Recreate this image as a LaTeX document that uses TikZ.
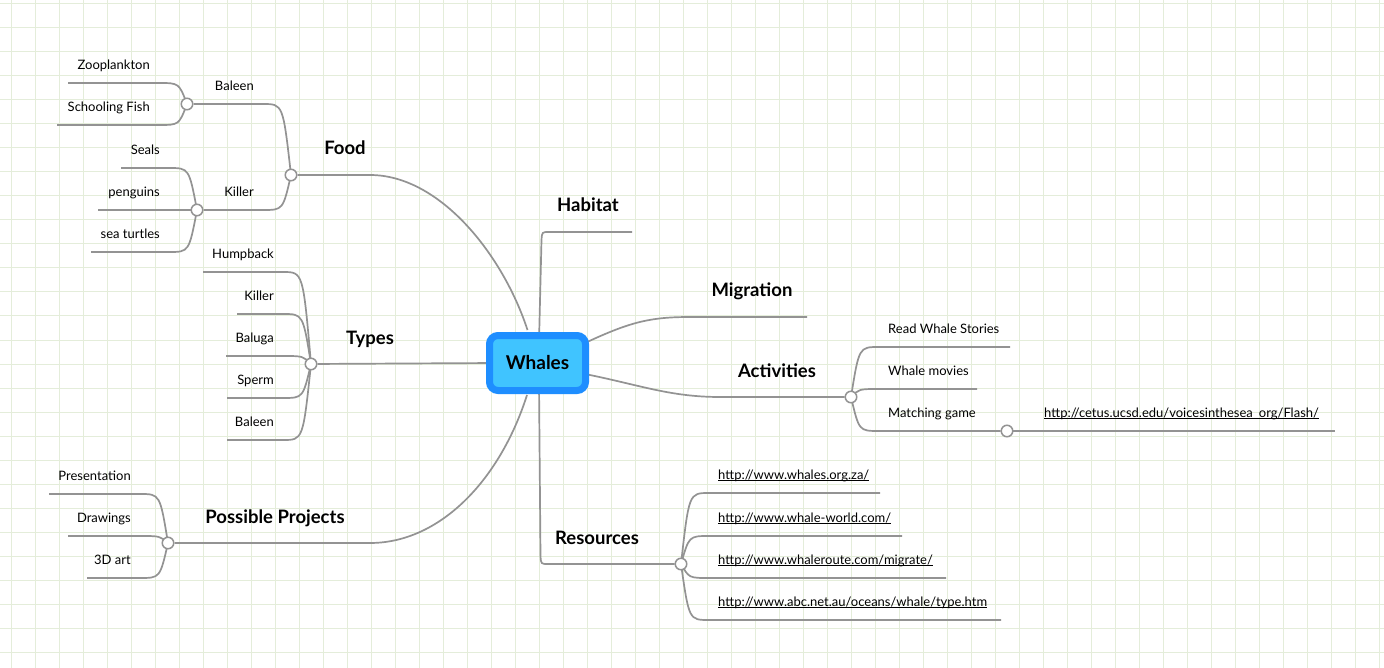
\documentclass[tikz,border=0pt]{standalone}
\usepackage{fontspec}
\setmainfont{Lato}
\pgfdeclarelayer{grid}
\pgfdeclarelayer{bg}
\pgfsetlayers{grid,bg,main}
\definecolor{linec}{HTML}{939393}
\definecolor{gridc}{HTML}{E4EDDA}
\definecolor{boxb}{HTML}{1E8EFF}
\definecolor{boxf}{HTML}{40C4FF}
\newcommand{\lnk}[1]{\leavevmode\setbox0\hbox{#1}\rlap{\rule[-1.6pt]{\wd0}{0.8pt}}\box0}
\newcommand{\lbr}[2]{\draw[conn] (#1.center) .. controls ([xshift=-8pt]#1.center |- #2) .. ([xshift=-28pt]#1.center |- #2) -- (#2);}
\newcommand{\rbr}[2]{\draw[conn] (#1.center) .. controls ([xshift=8pt]#1.center |- #2) .. ([xshift=28pt]#1.center |- #2) -- (#2);}
\tikzset{
  conn/.style={draw=linec, line width=1.7pt},
  jn/.style={circle, draw=linec, fill=white, line width=1.5pt, minimum size=11.5pt, inner sep=0pt},
  lab/.style={font=\fontsize{13}{15}\selectfont, inner sep=0pt},
  llab/.style={lab, anchor=base east},
  rlab/.style={lab, anchor=base west},
  mainlab/.style={font=\fontsize{18.5}{22}\selectfont\bfseries, inner sep=0pt, anchor=base},
  centralbox/.style={draw=boxb, fill=boxf, line width=7pt, rounded corners=8.5pt,
    minimum width=96pt, minimum height=55pt, inner sep=0pt,
    font=\fontsize{19}{22}\selectfont\bfseries}
}
\begin{document}
\begin{tikzpicture}[x=1pt,y=-1pt]
\useasboundingbox (0,0) rectangle (1384,668);
\begin{pgfonlayer}{grid}
  \fill[white] (0,0) rectangle (1384,668);
  \foreach \i in {0,...,57} \draw[gridc, line width=1pt] ({11+24*\i},0) -- ({11+24*\i},668);
  \foreach \j in {0,...,27} \draw[gridc, line width=1pt] (0,{4+24*\j}) -- (1384,{4+24*\j});
\end{pgfonlayer}

% central topic
\node[centralbox] (whales) at (537.5,363) {Whales};

% junctions
\node[jn] (jFood) at (291,175) {};
\node[jn] (jBaleen) at (187,104) {};
\node[jn] (jKiller) at (197,210) {};
\node[jn] (jTypes) at (311,364) {};
\node[jn] (jProj) at (168,543) {};
\node[jn] (jAct) at (851,397) {};
\node[jn] (jMatch) at (1007,431) {};
\node[jn] (jRes) at (681,564) {};

% free ends
\coordinate (eZoo) at (68,83);
\coordinate (eSchool) at (57,125);
\coordinate (eSeals) at (121,168);
\coordinate (ePeng) at (98,210);
\coordinate (eTurt) at (91,252);
\coordinate (eHump) at (203,272);
\coordinate (eKillT) at (237,314);
\coordinate (eBal) at (226,356);
\coordinate (eSperm) at (227,398);
\coordinate (eBaleT) at (227,440);
\coordinate (ePres) at (49,494);
\coordinate (eDraw) at (68,536);
\coordinate (e3D) at (87,578);
\coordinate (eRead) at (1010,347);
\coordinate (eMovie) at (977,389);
\coordinate (eCetus) at (1335,431);
\coordinate (eR1) at (880,493);
\coordinate (eR2) at (902,536);
\coordinate (eR3) at (946,578);
\coordinate (eR4) at (1001,620);
\coordinate (eHab) at (632,232);
\coordinate (eMig) at (807,317);

% starting points on the central topic
\coordinate (wFood) at ([xshift=-10pt,yshift=2pt]whales.north);
\coordinate (wHab) at ([xshift=1.5pt,yshift=-10pt]whales.north);
\coordinate (wMig) at ([xshift=-4pt,yshift=20pt]whales.east);
\coordinate (wAct) at ([xshift=-4pt,yshift=-11pt]whales.east);
\coordinate (wTypes) at ([xshift=10pt]whales.west);
\coordinate (wProj) at ([xshift=-10.5pt,yshift=-1pt]whales.south);
\coordinate (wRes) at ([xshift=1.5pt,yshift=10pt]whales.south);

\begin{pgfonlayer}{bg}
  % main branches
  \draw[conn] (wFood) .. controls (503,255) and (440,175) .. (370,175) -- (jFood);
  \draw[conn] (wHab) -- (541.5,240) .. controls (542,232) .. (549,232) -- (eHab);
  \draw[conn] (wMig) .. controls (630,322) and (650,317) .. (690,317) -- (eMig);
  \draw[conn] (wAct) .. controls (640,385) and (670,397) .. (720,397) -- (jAct);
  \draw[conn] (wTypes) -- (jTypes);
  \draw[conn] (wProj) .. controls (500,480) and (440,543) .. (370,543) -- (jProj);
  \draw[conn] (wRes) -- (540.5,556) .. controls (541,564) .. (548,564) -- (jRes);
  % Food
  \lbr{jFood}{jBaleen}
  \lbr{jFood}{jKiller}
  \lbr{jBaleen}{eZoo}
  \lbr{jBaleen}{eSchool}
  \lbr{jKiller}{eSeals}
  \draw[conn] (jKiller.center) -- (ePeng);
  \lbr{jKiller}{eTurt}
  % Types
  \lbr{jTypes}{eHump}
  \lbr{jTypes}{eKillT}
  \lbr{jTypes}{eBal}
  \lbr{jTypes}{eSperm}
  \lbr{jTypes}{eBaleT}
  % Projects
  \lbr{jProj}{ePres}
  \lbr{jProj}{eDraw}
  \lbr{jProj}{e3D}
  % Activities
  \rbr{jAct}{eRead}
  \rbr{jAct}{eMovie}
  \rbr{jAct}{jMatch}
  \draw[conn] (jMatch.center) -- (eCetus);
  % Resources
  \rbr{jRes}{eR1}
  \rbr{jRes}{eR2}
  \rbr{jRes}{eR3}
  \rbr{jRes}{eR4}
\end{pgfonlayer}

% main labels
\node[mainlab] (tFood) at (345,155) {Food};
\node[mainlab] (tHab) at (588,212) {Habitat};
\node[mainlab] (tMig) at (752,297) {Migration};
\node[mainlab] (tAct) at (777,377) {Activities};
\node[mainlab] (tTypes) at (370,344) {Types};
\node[mainlab] (tProj) at (275,523) {Possible Projects};
\node[mainlab] (tRes) at (597,544) {Resources};

% left labels
\node[llab] (tBaleenF) at (254,90.5) {Baleen};
\node[llab] (tKillerF) at (254,196.5) {Killer};
\node[llab] (tZoo) at (150,69.5) {Zooplankton};
\node[llab] (tSchool) at (150,111.5) {Schooling Fish};
\node[llab] (tSeals) at (160,154.5) {Seals};
\node[llab] (tPeng) at (160,196.5) {penguins};
\node[llab] (tTurt) at (160,238.5) {sea turtles};
\node[llab] (tHump) at (274,258.5) {Humpback};
\node[llab] (tKillT) at (274,300.5) {Killer};
\node[llab] (tBal) at (274,342.5) {Baluga};
\node[llab] (tSperm) at (274,384.5) {Sperm};
\node[llab] (tBaleT) at (274,426.5) {Baleen};
\node[llab] (tPres) at (131,480.5) {Presentation};
\node[llab] (tDraw) at (131,522.5) {Drawings};
\node[llab] (t3D) at (131,564.5) {3D art};

% right labels
\node[rlab] (tRead) at (888,333.5) {Read Whale Stories};
\node[rlab] (tMovie) at (888,375.5) {Whale movies};
\node[rlab] (tMatch) at (888,417.5) {Matching game};
\node[rlab] (tCetus) at (1044,417.5) {\lnk{http://cetus.ucsd.edu/voicesinthesea\_org/Flash/}};
\node[rlab] (tR1) at (718,479.5) {\lnk{http://www.whales.org.za/}};
\node[rlab] (tR2) at (718,522.5) {\lnk{http://www.whale-world.com/}};
\node[rlab] (tR3) at (718,564.5) {\lnk{http://www.whaleroute.com/migrate/}};
\node[rlab] (tR4) at (718,606.5) {\lnk{http://www.abc.net.au/oceans/whale/type.htm}};
\end{tikzpicture}
\end{document}
